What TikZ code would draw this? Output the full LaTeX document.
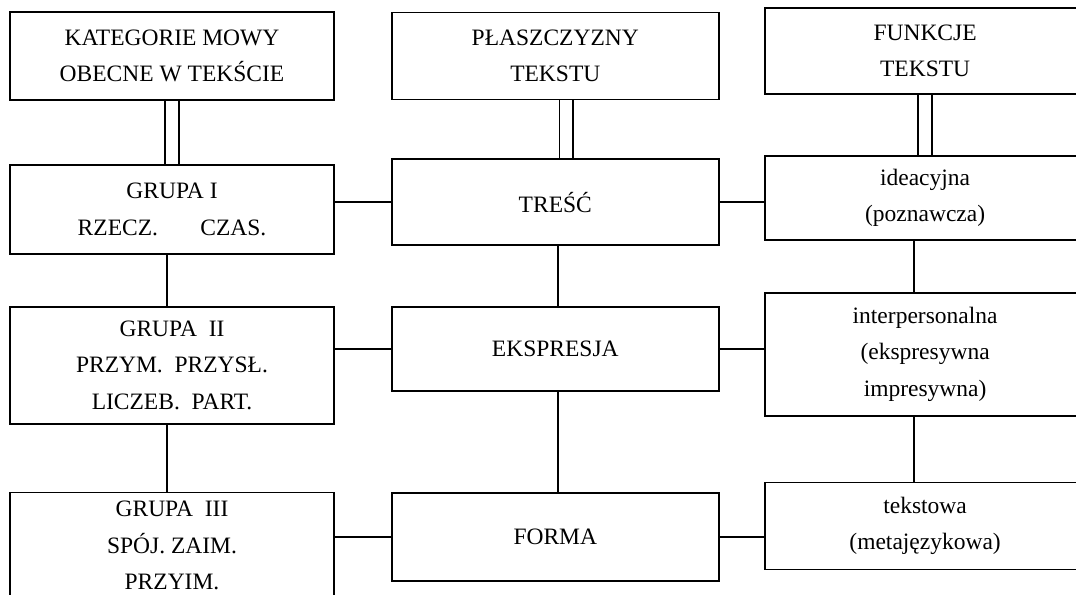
\documentclass[tikz,border=0pt]{standalone}
\usepackage{fontspec}
\setmainfont{Liberation Serif}
\usetikzlibrary{positioning}
\tikzset{
    mybox/.style={rectangle, draw=black, line width=1.8bp, inner sep=2bp, align=center, font=\fontsize{23.5bp}{36.5bp}\selectfont},
    leftbox/.style={mybox, minimum width=324bp},
    midbox/.style={mybox, minimum width=327bp},
    rightbox/.style={mybox, minimum width=321bp},
    myline/.style={draw=black, line width=1.8bp},
    mydouble/.style={draw=black, double, double distance=12bp, line width=1.8bp}
}

\begin{document}
\begin{tikzpicture}[node distance=1cm, auto]

        \useasboundingbox (-172bp,56bp) rectangle (904bp,-539bp);
        \clip (-172bp,56bp) rectangle (904bp,-539bp);

        % ------------------
        % nodes
        % ------------------

        \node[leftbox, minimum height=88bp] (kategorie) {KATEGORIE MOWY\\OBECNE W TEKŚCIE};
        \node[leftbox, minimum height=89bp, below=63bp of kategorie] (grupaI) {GRUPA I\\RZECZ.\hspace{1.8em}CZAS.};
        \node[leftbox, minimum height=117bp, below=51bp of grupaI] (grupaII) {GRUPA~~II\\PRZYM.~~PRZYSŁ.\\LICZEB.~~PART.};
        \node[leftbox, minimum height=106bp, below=67bp of grupaII] (grupaIII) {GRUPA~~III\\SPÓJ. ZAIM.\\PRZYIM.};

        \node[midbox, minimum height=87bp, right=56bp of kategorie] (plaszczyzny) {PŁASZCZYZNY\\TEKSTU};
        \node[midbox, minimum height=86bp, below=58bp of plaszczyzny] (tresc) {TREŚĆ};
        \node[midbox, minimum height=84bp, below=60bp of tresc] (ekspresja) {EKSPRESJA};
        \node[midbox, minimum height=88bp, below=100bp of ekspresja] (forma) {FORMA};

        \node[rightbox, minimum height=86bp, right=44bp of plaszczyzny, yshift=5bp] (funkcje) {FUNKCJE\\TEKSTU};
        \node[rightbox, minimum height=84bp, below=60bp of funkcje] (ideacyjna) {ideacyjna\\(poznawcza)};
        \node[rightbox, minimum height=123bp, below=51bp of ideacyjna] (interpers) {interpersonalna\\(ekspresywna\\impresywna)};
        \node[rightbox, minimum height=87bp, below=65bp of interpers] (tekstowa) {tekstowa\\(metajęzykowa)};

        % ------------------
        % lines
        % ------------------

        \draw[mydouble] (kategorie.south) -- (grupaI.north);
        \draw[mydouble] ([xshift=11bp]plaszczyzny.south) -- ([xshift=11bp]tresc.north);
        \draw[mydouble] (funkcje.south) -- (ideacyjna.north);

        \draw[myline] ([xshift=-5bp]grupaI.south) -- ([xshift=-5bp]grupaII.north);
        \draw[myline] ([xshift=-5bp]grupaII.south) -- ([xshift=-5bp]grupaIII.north);

        \draw[myline] ([xshift=3bp]tresc.south) -- ([xshift=3bp]ekspresja.north);
        \draw[myline] ([xshift=3bp]ekspresja.south) -- ([xshift=3bp]forma.north);

        \draw[myline] ([xshift=-11bp]ideacyjna.south) -- ([xshift=-11bp]interpers.north);
        \draw[myline] ([xshift=-11bp]interpers.south) -- ([xshift=-11bp]tekstowa.north);

        \draw[myline] (tresc.west) -- (tresc.west -| grupaI.east);
        \draw[myline] (ekspresja.west) -- (ekspresja.west -| grupaII.east);
        \draw[myline] (forma.west) -- (forma.west -| grupaIII.east);

        \draw[myline] (tresc.east) -- (tresc.east -| ideacyjna.west);
        \draw[myline] (ekspresja.east) -- (ekspresja.east -| interpers.west);
        \draw[myline] (forma.east) -- (forma.east -| tekstowa.west);

\end{tikzpicture}
\end{document}
